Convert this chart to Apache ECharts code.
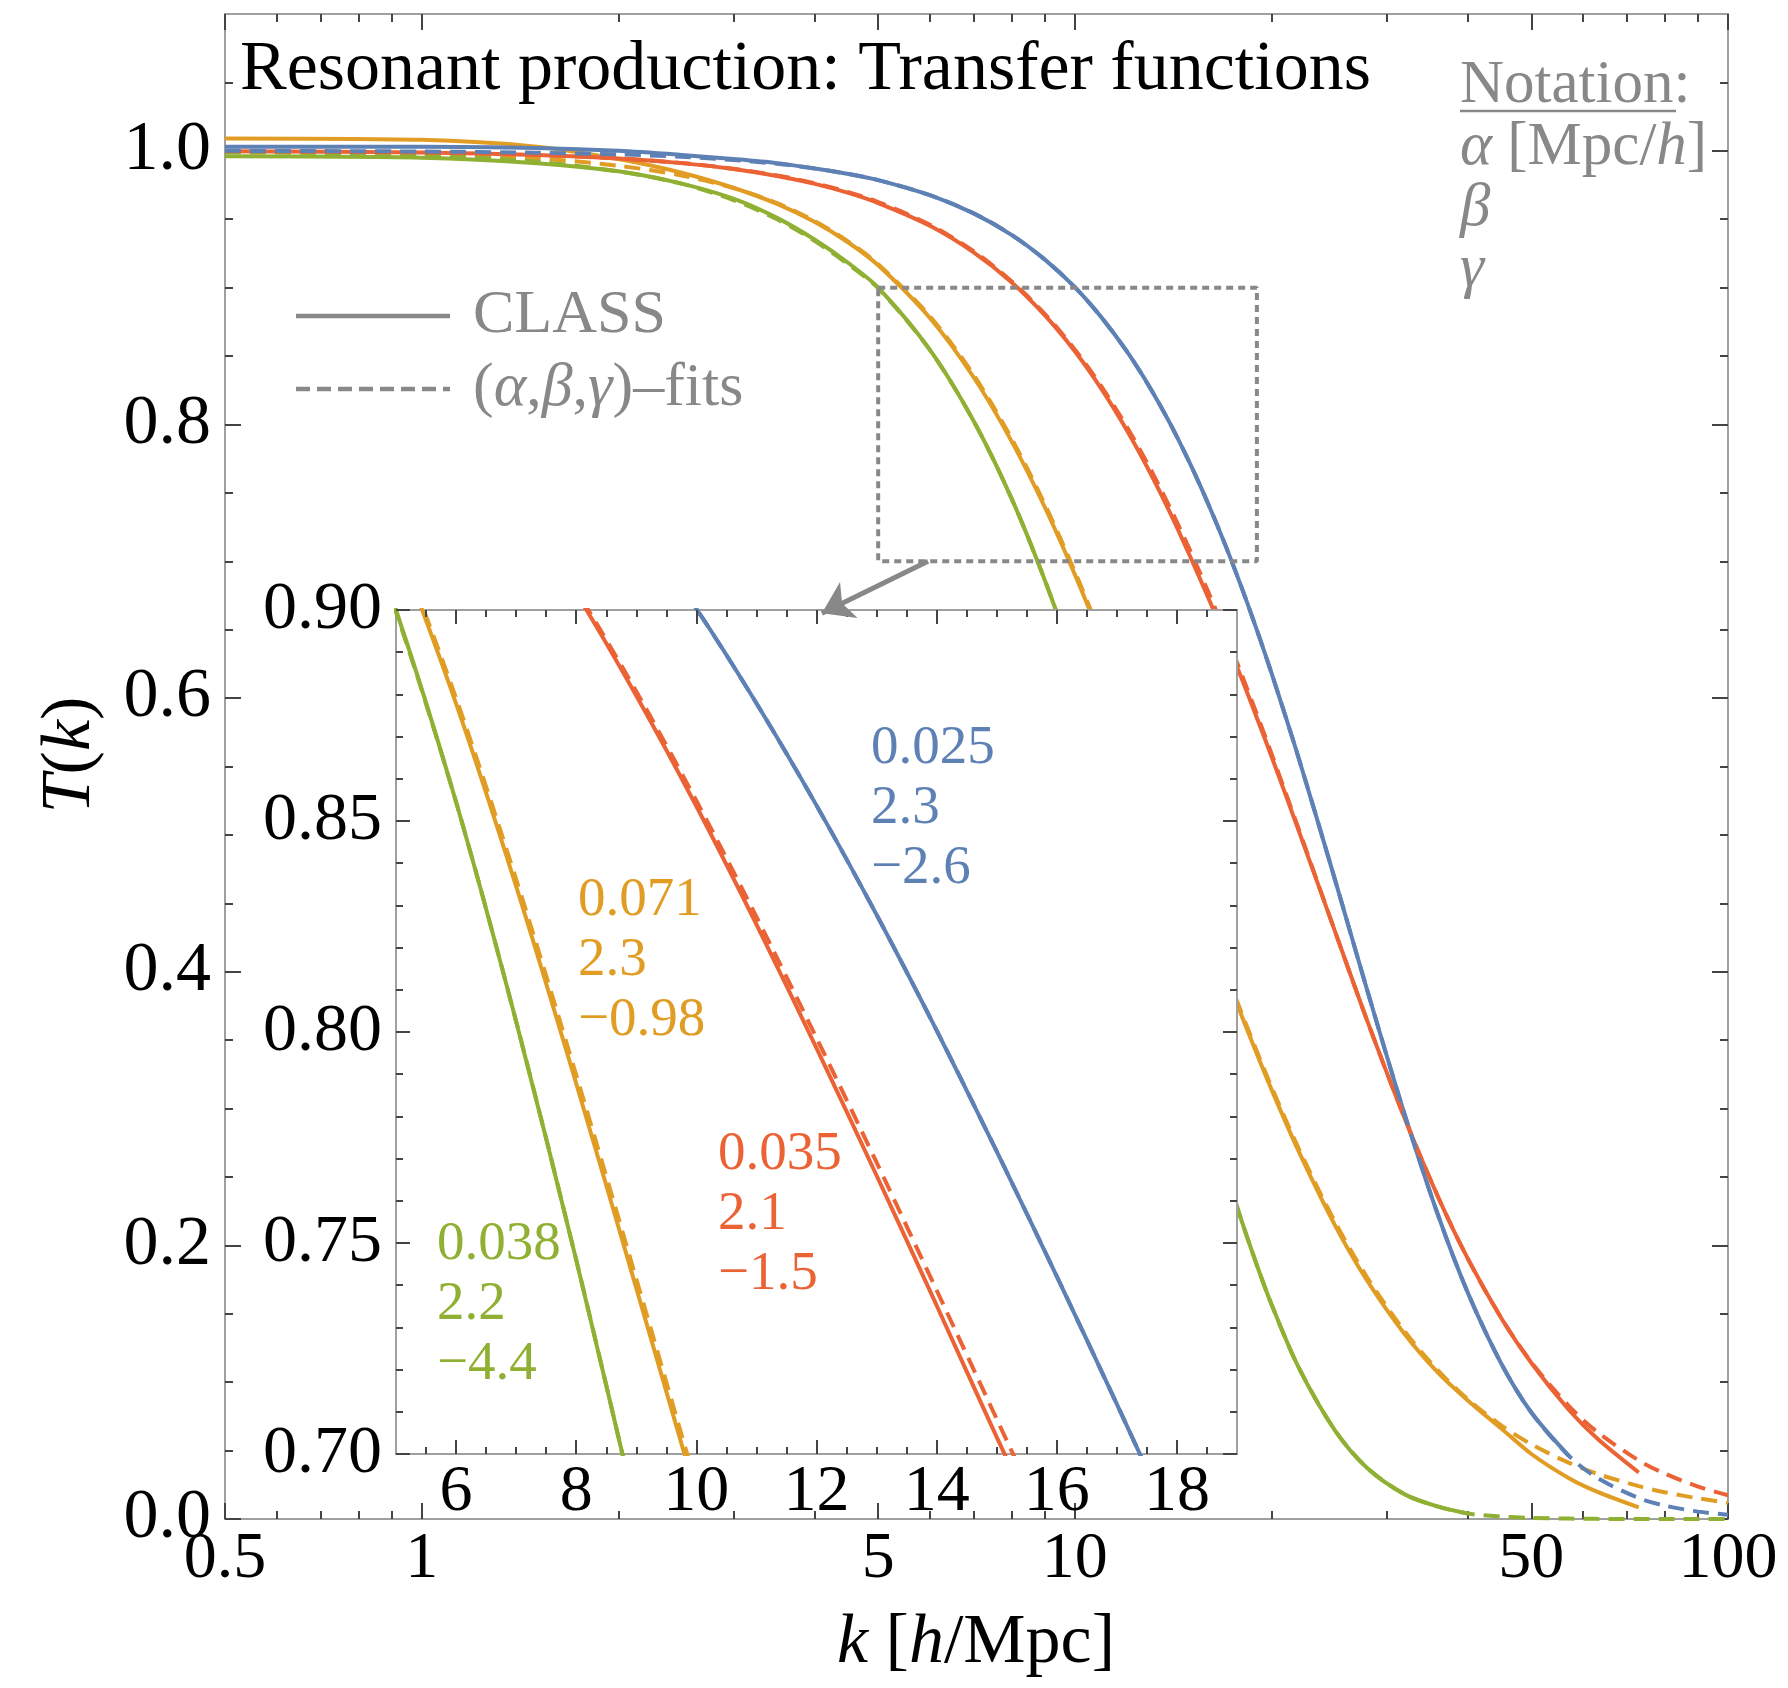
<!DOCTYPE html>
<html>
<head>
<meta charset="utf-8">
<script src="https://cdn.jsdelivr.net/npm/echarts@6/dist/echarts.min.js"></script>
<style>html,body{margin:0;padding:0;background:#fff}#c{width:1788px;height:1688px}</style>
</head>
<body>
<div id="c"></div>
<script>
// ---------------- data ----------------
const K = [0.5, 1, 1.5, 2, 2.5, 3, 3.5, 4, 4.5, 5, 6, 7, 8, 9, 10, 11, 12, 13, 14, 15, 16, 17, 18, 19, 20, 22, 25, 28, 32, 36, 40, 45, 50, 57, 63, 73, 80, 90, 100];

const BLUE_CLASS = [1.003, 1.003, 1.002, 1.000, 0.997, 0.994, 0.991, 0.9871, 0.9831, 0.9786, 0.9676, 0.9543, 0.9386, 0.9205, 0.9003, 0.8779, 0.8537, 0.8278, 0.8004, 0.7717, 0.7421, 0.7118, 0.6809, 0.6497, 0.6184, 0.5566, 0.4679, 0.3873, 0.2954, 0.2218, 0.1649, 0.1133, 0.0778, 0.0464, null, null, null, null, null];
const BLUE_FIT   = [1.000, 0.9995, 0.9986, 0.9974, 0.9956, 0.9933, 0.9905, 0.9871, 0.9831, 0.9786, 0.9676, 0.9543, 0.9386, 0.9205, 0.9003, 0.8779, 0.8537, 0.8278, 0.8004, 0.7717, 0.7421, 0.7118, 0.6809, 0.6497, 0.6184, 0.5566, 0.4679, 0.3873, 0.2954, 0.2218, 0.1649, 0.1133, 0.0778, 0.0464, 0.0302, 0.0153, 0.0098, 0.0054, 0.0031];

const ORANGE_CLASS = [1.009, 1.008, 1.003, 0.994, 0.984, 0.973, 0.9612, 0.948, 0.933, 0.9163, 0.8778, 0.8345, 0.7878, 0.7393, 0.6903, 0.6420, 0.5952, 0.5505, 0.5082, 0.4688, 0.4323, 0.3988, 0.3680, 0.3398, 0.3140, 0.2690, 0.2150, 0.1745, 0.1350, 0.1068, 0.0865, 0.0660, 0.0475, 0.0300, 0.0200, 0.0085, null, null, null];
const ORANGE_FIT   = [0.9995, 0.9978, 0.9944, 0.9891, 0.9820, 0.9728, 0.9617, 0.9486, 0.9337, 0.9171, 0.8791, 0.8362, 0.7898, 0.7415, 0.6925, 0.6442, 0.5974, 0.5527, 0.5104, 0.4710, 0.4345, 0.4009, 0.3700, 0.3418, 0.3160, 0.2711, 0.2175, 0.1769, 0.1370, 0.1084, 0.0874, 0.0683, 0.0546, 0.0412, 0.0331, 0.0240, 0.0196, 0.0151, 0.0119];

const RED_CLASS = [0.9997, 0.9987, 0.9969, 0.9944, 0.9910, 0.9867, 0.9816, 0.9758, 0.9692, 0.9618, 0.9452, 0.9258, 0.9040, 0.8797, 0.8535, 0.8255, 0.7962, 0.7660, 0.7352, 0.7040, 0.6735, 0.6440, 0.6145, 0.5855, 0.5575, 0.5035, 0.4300, 0.3648, 0.2927, 0.2352, 0.1899, 0.1466, 0.1140, 0.0800, 0.0590, 0.0340, null, null, null];
const RED_FIT   = [0.9997, 0.9987, 0.9969, 0.9944, 0.9911, 0.9869, 0.9820, 0.9763, 0.9698, 0.9626, 0.9460, 0.9266, 0.9047, 0.8807, 0.8548, 0.8273, 0.7986, 0.7691, 0.7388, 0.7083, 0.6778, 0.6475, 0.6175, 0.5882, 0.5595, 0.5047, 0.4300, 0.3648, 0.2927, 0.2352, 0.1899, 0.1466, 0.1146, 0.0828, 0.0638, 0.0428, 0.0332, 0.0237, 0.0174];

const GREEN_CLASS = [0.996, 0.995, 0.991, 0.985, 0.976, 0.965, 0.951, 0.935, 0.918, 0.900, 0.8545, 0.8025, 0.7460, 0.6860, 0.6245, 0.5630, 0.5030, 0.4455, 0.3915, 0.3415, 0.2960, 0.2550, 0.2180, 0.1855, 0.1570, 0.1110, 0.0650, 0.0375, 0.0180, 0.0090, 0.0040, null, null, null, null, null, null, null, null];
const GREEN_FIT   = [0.999, 0.997, 0.992, 0.985, 0.976, 0.964, 0.950, 0.934, 0.917, 0.8995, 0.8545, 0.8025, 0.7460, 0.6860, 0.6245, 0.5630, 0.5030, 0.4455, 0.3915, 0.3415, 0.2960, 0.2550, 0.2180, 0.1855, 0.1570, 0.1110, 0.0650, 0.0375, 0.0180, 0.0090, 0.0040, 0.0017, 0.0008, 0.0003, 0.0001, 0, 0, 0, 0];

// parameter annotations (alpha, beta, gamma)
const BLUE_PARAMS   = ['0.025', '2.3', '\u22122.6'];
const ORANGE_PARAMS = ['0.071', '2.3', '\u22120.98'];
const RED_PARAMS    = ['0.035', '2.1', '\u22121.5'];
const GREEN_PARAMS  = ['0.038', '2.2', '\u22124.4'];

// zoom box (data coords of main plot) and arrow
const ZOOM_BOX = [[5, 0.9], [19, 0.9], [19, 0.7], [5, 0.7], [5, 0.9]];
const ARROW = [[5.96, 0.700], [4.10, 0.662]];

// axis ticks / labels
const XMAIN_MAJOR = [0.5000001, 1, 5, 10, 50, 99.99999];
const XMAIN_LABELS = ['0.5', '1', '5', '10', '50', '100'];
const XMAIN_MINOR = [0.6, 0.7, 0.8, 0.9, 2, 3, 4, 6, 7, 8, 9, 20, 30, 40, 60, 70, 80, 90];
const YMAIN_MAJOR = [0, 0.2, 0.4, 0.6, 0.8, 1.0];
const YMAIN_LABELS = ['0.0', '0.2', '0.4', '0.6', '0.8', '1.0'];
const YMAIN_MINOR = [0.05, 0.1, 0.15, 0.25, 0.3, 0.35, 0.45, 0.5, 0.55, 0.65, 0.7, 0.75, 0.85, 0.9, 0.95, 1.05];
const XIN_MAJOR = [6, 8, 10, 12, 14, 16, 18];
const XIN_LABELS = ['6', '8', '10', '12', '14', '16', '18'];
const XIN_MINOR = [5.5, 6.5, 7, 7.5, 8.5, 9, 9.5, 10.5, 11, 11.5, 12.5, 13, 13.5, 14.5, 15, 15.5, 16.5, 17, 17.5, 18.5];
const YIN_MAJOR = [0.70, 0.75, 0.80, 0.85, 0.90];
const YIN_LABELS = ['0.70', '0.75', '0.80', '0.85', '0.90'];
const YIN_MINOR = [0.71, 0.72, 0.73, 0.74, 0.76, 0.77, 0.78, 0.79, 0.81, 0.82, 0.83, 0.84, 0.86, 0.87, 0.88, 0.89];

// ---------------- styling ----------------
const SERIF = '"Liberation Serif", "DejaVu Serif", serif';
const C_BLUE = '#5E81B5', C_ORANGE = '#E19C24', C_RED = '#EB6235', C_GREEN = '#8FB032';
const GRAY = '#888888', FRAME = '#a0a0a0', TICK = '#444444';
const LW = 4, DASH = [16, 9];

function lookup(vals, labels) {
  return function (v) {
    for (let i = 0; i < vals.length; i++) {
      if (Math.abs(vals[i] - v) <= 1e-4 * Math.max(1, Math.abs(vals[i]))) return labels[i];
    }
    return '';
  };
}

function axis(o) {
  const a = {
    gridIndex: o.grid, type: o.type, position: o.pos, min: o.min, max: o.max, z: o.z || 0,
    axisLine: { show: false, onZero: false },
    splitLine: { show: false }, minorTick: { show: false }, splitArea: { show: false },
    axisPointer: { show: false },
    axisTick: { show: true, inside: true, length: o.len, customValues: o.ticks,
                lineStyle: { color: TICK, width: 2 } },
    axisLabel: o.labelVals ? {
      show: true, customValues: o.labelVals, formatter: lookup(o.labelVals, o.labelText),
      margin: o.margin, fontFamily: SERIF, fontSize: o.fs, color: '#000',
      showMinLabel: true, showMaxLabel: true, hideOverlap: false
    } : { show: false }
  };
  if (o.type === 'log') a.logBase = 10;
  return a;
}

function pts(arr, lo, hi) {
  const out = [];
  K.forEach(function (k, i) {
    if (arr[i] !== null && k >= lo && k <= hi) out.push([k, arr[i]]);
  });
  return out;
}

const xAxes = [
  axis({ grid: 0, type: 'log', pos: 'bottom', min: 0.5, max: 100, len: 16, ticks: XMAIN_MAJOR,
         labelVals: XMAIN_MAJOR, labelText: XMAIN_LABELS, margin: 8, fs: 66 }),
  axis({ grid: 0, type: 'log', pos: 'bottom', min: 0.5, max: 100, len: 8, ticks: XMAIN_MINOR }),
  axis({ grid: 0, type: 'log', pos: 'top', min: 0.5, max: 100, len: 16, ticks: XMAIN_MAJOR }),
  axis({ grid: 0, type: 'log', pos: 'top', min: 0.5, max: 100, len: 8, ticks: XMAIN_MINOR }),
  axis({ grid: 1, type: 'value', pos: 'bottom', min: 5, max: 19, len: 14, ticks: XIN_MAJOR,
         labelVals: XIN_MAJOR, labelText: XIN_LABELS, margin: 6, fs: 66, z: 7 }),
  axis({ grid: 1, type: 'value', pos: 'bottom', min: 5, max: 19, len: 7, ticks: XIN_MINOR, z: 7 }),
  axis({ grid: 1, type: 'value', pos: 'top', min: 5, max: 19, len: 14, ticks: XIN_MAJOR, z: 7 }),
  axis({ grid: 1, type: 'value', pos: 'top', min: 5, max: 19, len: 7, ticks: XIN_MINOR, z: 7 })
];
const yAxes = [
  axis({ grid: 0, type: 'value', pos: 'left', min: 0, max: 1.1, len: 16, ticks: YMAIN_MAJOR,
         labelVals: YMAIN_MAJOR, labelText: YMAIN_LABELS, margin: 14, fs: 70 }),
  axis({ grid: 0, type: 'value', pos: 'left', min: 0, max: 1.1, len: 8, ticks: YMAIN_MINOR }),
  axis({ grid: 0, type: 'value', pos: 'right', min: 0, max: 1.1, len: 16, ticks: YMAIN_MAJOR }),
  axis({ grid: 0, type: 'value', pos: 'right', min: 0, max: 1.1, len: 8, ticks: YMAIN_MINOR }),
  axis({ grid: 1, type: 'value', pos: 'left', min: 0.7, max: 0.9, len: 14, ticks: YIN_MAJOR,
         labelVals: YIN_MAJOR, labelText: YIN_LABELS, margin: 14, fs: 68, z: 7 }),
  axis({ grid: 1, type: 'value', pos: 'left', min: 0.7, max: 0.9, len: 7, ticks: YIN_MINOR, z: 7 }),
  axis({ grid: 1, type: 'value', pos: 'right', min: 0.7, max: 0.9, len: 14, ticks: YIN_MAJOR, z: 7 }),
  axis({ grid: 1, type: 'value', pos: 'right', min: 0.7, max: 0.9, len: 7, ticks: YIN_MINOR, z: 7 })
];

const CURVES = [
  { cls: ORANGE_CLASS, fit: ORANGE_FIT, color: C_ORANGE },
  { cls: GREEN_CLASS, fit: GREEN_FIT, color: C_GREEN },
  { cls: RED_CLASS, fit: RED_FIT, color: C_RED },
  { cls: BLUE_CLASS, fit: BLUE_FIT, color: C_BLUE }
];

const series = [];
function lineSeries(data, color, dashed, xi, yi, z) {
  return {
    type: 'line', xAxisIndex: xi, yAxisIndex: yi, data: data, showSymbol: false, symbol: 'none',
    clip: true, silent: true, z: z, smooth: 0.3,
    lineStyle: { color: color, width: LW, type: dashed ? DASH : 'solid', cap: 'butt' }
  };
}
CURVES.forEach(function (c) { series.push(lineSeries(pts(c.cls, 0.5, 100), c.color, false, 0, 0, 2)); });
CURVES.forEach(function (c) { series.push(lineSeries(pts(c.fit, 0.5, 100), c.color, true, 0, 0, 3)); });
CURVES.forEach(function (c) { series.push(lineSeries(pts(c.cls, 4, 22), c.color, false, 4, 4, 6)); });
CURVES.forEach(function (c) { series.push(lineSeries(pts(c.fit, 4, 22), c.color, true, 4, 4, 6)); });
series.push({
  type: 'line', xAxisIndex: 0, yAxisIndex: 0, data: ZOOM_BOX, showSymbol: false, symbol: 'none',
  silent: true, z: 4, lineStyle: { color: GRAY, width: 4, type: [7, 5] }
});
series.push({
  type: 'lines', coordinateSystem: 'cartesian2d', xAxisIndex: 0, yAxisIndex: 0, silent: true, z: 9,
  symbol: ['none', 'arrow'], symbolSize: [1, 30],
  lineStyle: { color: GRAY, width: 5, opacity: 1, curveness: 0 },
  data: [{ coords: ARROW }]
});

function txt(x, y, text, size, color, extra) {
  return {
    type: 'text', x: x, y: y, z: 10, silent: true,
    style: Object.assign({ text: text, fontFamily: SERIF, fontSize: size, fill: color,
                           align: 'left', verticalAlign: 'middle' }, extra || {})
  };
}
function richI(size, color) {
  return { i: { fontFamily: SERIF, fontSize: size, fontStyle: 'italic', fill: color },
           n: { fontFamily: SERIF, fontSize: size, fill: color } };
}
function params(x, yTop, arr, color) {
  return {
    type: 'text', x: x, y: yTop, z: 10, silent: true,
    style: { text: arr.join('\n'), fontFamily: SERIF, fontSize: 55, fill: color,
             lineHeight: 60, align: 'left', verticalAlign: 'top' }
  };
}

const graphic = [
  txt(240, 71, 'Resonant production: Transfer functions', 70, '#000'),
  { type: 'line', z: 10, silent: true, shape: { x1: 296, y1: 316, x2: 450, y2: 316 },
    style: { stroke: GRAY, lineWidth: 4.5 } },
  txt(473, 316, 'CLASS', 62, GRAY),
  { type: 'line', z: 10, silent: true, shape: { x1: 296, y1: 389, x2: 450, y2: 389 },
    style: { stroke: GRAY, lineWidth: 4.5, lineDash: [14, 7] } },
  { type: 'text', x: 473, y: 389, z: 10, silent: true,
    style: { text: '{n|(}{i|\u03B1}{n|,}{i|\u03B2}{n|,}{i|\u03B3}{n|)\u2013fits}', rich: richI(62, GRAY),
             fontFamily: SERIF, fontSize: 62, fill: GRAY, verticalAlign: 'middle' } },
  txt(1460, 86, 'Notation:', 61, GRAY),
  { type: 'line', z: 10, silent: true, shape: { x1: 1460, y1: 111, x2: 1676, y2: 111 },
    style: { stroke: GRAY, lineWidth: 2.5 } },
  { type: 'text', x: 1460, y: 148, z: 10, silent: true,
    style: { text: '{i|\u03B1}{n| [Mpc/}{i|h}{n|]}', rich: richI(61, GRAY),
             fontFamily: SERIF, fontSize: 61, fill: GRAY, verticalAlign: 'middle' } },
  txt(1460, 209, '\u03B2', 61, GRAY, { fontStyle: 'italic' }),
  txt(1460, 270, '\u03B3', 61, GRAY, { fontStyle: 'italic' }),
  params(871, 719, BLUE_PARAMS, C_BLUE),
  params(578, 871, ORANGE_PARAMS, C_ORANGE),
  params(718, 1125, RED_PARAMS, C_RED),
  params(437, 1215, GREEN_PARAMS, C_GREEN),
  { type: 'text', x: 976, y: 1644, z: 10, silent: true,
    style: { text: '{i|k}{n| [}{i|h}{n|/Mpc]}', rich: richI(70, '#000'),
             fontFamily: SERIF, fontSize: 70, fill: '#000', align: 'center', verticalAlign: 'middle' } },
  { type: 'text', x: 71, y: 755, z: 10, silent: true, rotation: Math.PI / 2,
    style: { text: '{i|T}{n|(}{i|k}{n|)}', rich: richI(70, '#000'),
             fontFamily: SERIF, fontSize: 70, fill: '#000', align: 'center', verticalAlign: 'middle' } }
];

const option = {
  animation: false,
  backgroundColor: '#ffffff',
  grid: [
    { left: 225, top: 14, width: 1503, height: 1505, show: true, containLabel: false,
      outerBoundsMode: 'none', backgroundColor: 'transparent', borderColor: FRAME, borderWidth: 2, z: 0 },
    { left: 396, top: 610, width: 841, height: 844, show: true, containLabel: false,
      outerBoundsMode: 'none', backgroundColor: '#ffffff', borderColor: FRAME, borderWidth: 2, z: 5 }
  ],
  xAxis: xAxes,
  yAxis: yAxes,
  series: series,
  graphic: graphic
};

const chart = echarts.init(document.getElementById('c'), null, { renderer: 'canvas' });
chart.setOption(option);
</script>
</body>
</html>
